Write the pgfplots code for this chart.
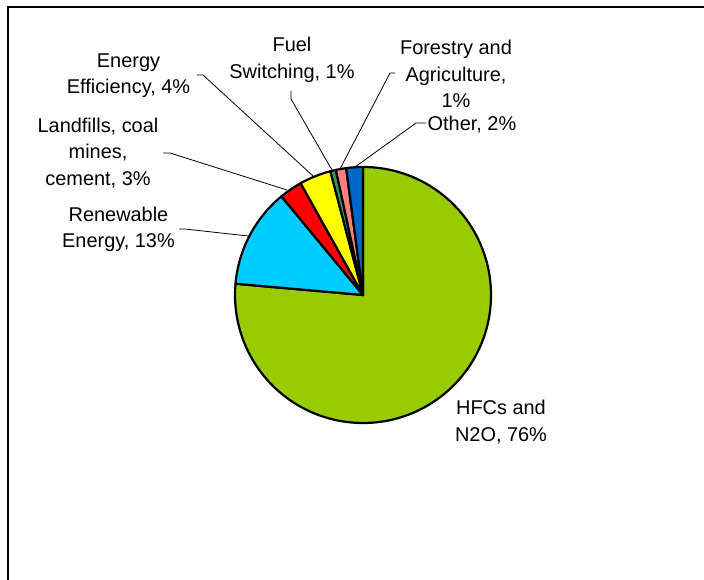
\documentclass[border=0pt]{standalone}
\usepackage{pgfplots}
\pgfplotsset{compat=1.18}
\usepackage{pgfplotstable}
\usepackage{fontspec}
\setmainfont{Liberation Sans}
\definecolor{hfc}{HTML}{99CC00}
\definecolor{ren}{HTML}{00CCFF}
\definecolor{land}{HTML}{FF0000}
\definecolor{ee}{HTML}{FFFF00}
\definecolor{fuel}{HTML}{339966}
\definecolor{forest}{HTML}{FF8080}
\definecolor{oth}{HTML}{0066CC}
\newcommand\lbl{\fontsize{20}{26.5}\selectfont}
\pgfplotstableread{
name value col
HFC 76.4 hfc
Renewable 12.6 ren
Landfills 2.9 land
Efficiency 4.0 ee
Fuel 0.7 fuel
Forestry 1.3 forest
Other 2.1 oth
}\piedata
\begin{document}
\begin{tikzpicture}
\path[use as bounding box, clip] (0,0) rectangle (704bp,580bp);
\begin{axis}[at={(0,0)}, anchor=origin, x=1bp, y=1bp, xmin=0, xmax=704, ymin=0, ymax=580,
  hide axis, scale only axis, clip=false]
\def\cum{0}
\pgfplotsforeachungrouped \i in {0,...,6}{%
  \pgfplotstablegetelem{\i}{value}\of\piedata \let\val\pgfplotsretval
  \pgfplotstablegetelem{\i}{col}\of\piedata \let\col\pgfplotsretval
  \pgfmathsetmacro\a{90-3.6*\cum}%
  \pgfmathsetmacro\b{90-3.6*(\cum+\val)}%
  \edef\temp{\noexpand\filldraw[fill=\col, draw=black, line width=2.2bp, line join=round]
    (axis cs:363,285) -- ++(\a:128bp) arc[start angle=\a, end angle=\b, radius=128bp] -- cycle;}%
  \temp
  \pgfmathsetmacro\cum{\cum+\val}%
}
% leader lines
\draw[line width=0.8bp] (axis cs:197,505) -- (axis cs:203,505) -- (axis cs:313,404);
\draw[line width=0.8bp] (axis cs:163,427) -- (axis cs:170,427) -- (axis cs:287,390);
\draw[line width=0.8bp] (axis cs:179,351) -- (axis cs:185,351) -- (axis cs:248,344);
\draw[line width=0.8bp] (axis cs:291,489) -- (axis cs:291,481) -- (axis cs:332,410);
\draw[line width=0.8bp] (axis cs:395,507) -- (axis cs:390,507) -- (axis cs:340,411);
\draw[line width=0.8bp] (axis cs:426,457) -- (axis cs:416,457) -- (axis cs:355,413);
% labels
\node[align=center, font=\lbl] at (axis cs:128.5,504.5) {Energy\\Efficiency, 4\%};
\node[align=center, font=\lbl] at (axis cs:98,427) {Landfills, coal\\mines,\\cement, 3\%};
\node[align=center, font=\lbl] at (axis cs:118.5,350.5) {Renewable\\Energy, 13\%};
\node[align=center, font=\lbl] at (axis cs:292,520) {Fuel\\Switching, 1\%};
\node[align=center, font=\lbl] at (axis cs:456,506) {Forestry and\\Agriculture,\\1\%};
\node[align=center, font=\lbl] at (axis cs:472,455) {Other, 2\%};
\node[align=center, font=\lbl] at (axis cs:501,158) {HFCs and\\N2O, 76\%};
% frame
\draw[line width=2bp] (axis cs:8.3,-20) -- (axis cs:8.3,573.2) -- (axis cs:730,573.2);
\end{axis}
\end{tikzpicture}
\end{document}
